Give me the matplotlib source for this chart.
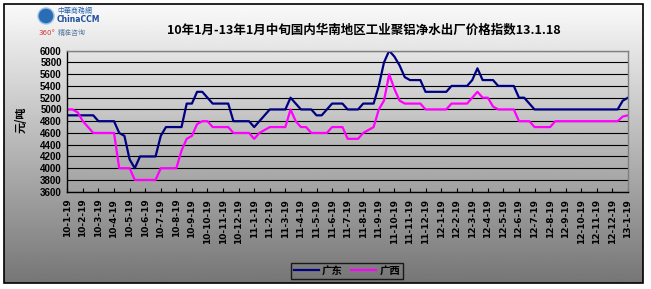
import numpy as np
import matplotlib
matplotlib.use("Agg")
import matplotlib.pyplot as plt
from matplotlib.patches import Rectangle, Circle

plt.rcParams['font.family'] = ['Noto Sans CJK SC', 'DejaVu Sans']

# ---------------- data ----------------
title = "10年1月-13年1月中旬国内华南地区工业聚铝净水出厂价格指数13.1.18"
y_label = "元/吨"
series_names = ["广东", "广西"]
month_labels = [f"{y}-{m}-19" for y in (10, 11, 12) for m in range(1, 13)] + ["13-1-19"]
y_ticks = list(range(3600, 6001, 200))

guangdong = [4900, 4900, 4900, 4900, 4900, 4900, 4800, 4800, 4800, 4800,
             4600, 4550, 4150, 4000, 4200, 4200, 4200, 4200, 4550, 4700,
             4700, 4700, 4700, 5100, 5100, 5300, 5300, 5200, 5100, 5100,
             5100, 5100, 4800, 4800, 4800, 4800, 4700, 4800, 4900, 5000,
             5000, 5000, 5000, 5200, 5100, 5000, 5000, 5000, 4900, 4900,
             5000, 5100, 5100, 5100, 5000, 5000, 5000, 5100, 5100, 5100,
             5400, 5800, 6000, 5900, 5750, 5550, 5500, 5500, 5500, 5300,
             5300, 5300, 5300, 5300, 5400, 5400, 5400, 5400, 5500, 5700,
             5500, 5500, 5500, 5400, 5400, 5400, 5400, 5200, 5200, 5100,
             5000, 5000, 5000, 5000, 5000, 5000, 5000, 5000, 5000, 5000,
             5000, 5000, 5000, 5000, 5000, 5000, 5000, 5150, 5200]

guangxi = [5000, 5000, 4950, 4800, 4700, 4600, 4600, 4600, 4600, 4600,
           4000, 4000, 4000, 3800, 3800, 3800, 3800, 3800, 4000, 4000,
           4000, 4000, 4300, 4500, 4550, 4750, 4800, 4800, 4700, 4700,
           4700, 4700, 4600, 4600, 4600, 4600, 4500, 4600, 4650, 4700,
           4700, 4700, 4700, 5000, 4800, 4700, 4700, 4600, 4600, 4600,
           4600, 4700, 4700, 4700, 4500, 4500, 4500, 4600, 4650, 4700,
           5000, 5150, 5600, 5350, 5150, 5100, 5100, 5100, 5100, 5000,
           5000, 5000, 5000, 5000, 5100, 5100, 5100, 5100, 5200, 5300,
           5200, 5200, 5050, 5000, 5000, 5000, 5000, 4800, 4800, 4800,
           4700, 4700, 4700, 4700, 4800, 4800, 4800, 4800, 4800, 4800,
           4800, 4800, 4800, 4800, 4800, 4800, 4800, 4880, 4900]

# ---------------- figure ----------------
W, H = 651, 289
fig = plt.figure(figsize=(W / 100, H / 100), dpi=100)
fig.patch.set_facecolor("white")

# background gradient + frame
bg = fig.add_axes([0, 0, 1, 1], zorder=0)
bg.set_xlim(0, W)
bg.set_ylim(H, 0)
bg.axis("off")
grad = np.linspace(250, 118, 256)[:, None] * np.ones((1, 4))
bg.imshow(grad, extent=(4, 643, 283, 4), cmap="gray", vmin=0, vmax=255,
          aspect="auto", interpolation="bilinear")
bg.add_patch(Rectangle((4, 4), 639, 279, fill=False, edgecolor="black", lw=1.2))

# logo (text)
bg.add_patch(Circle((46, 16), 8, facecolor="#2a6db5", edgecolor="#9cc3e6", lw=1))
bg.text(57, 11, "中華商務網", fontsize=5, color="#1f5fae", va="center", ha="left")
bg.text(57, 19, "ChinaCCM", fontsize=5.5, color="#1f4f9e", va="center", ha="left",
        fontweight="bold", family=["DejaVu Sans"])
bg.text(38, 33, "360°", fontsize=5, color="#d03030", va="center", ha="left",
        family=["DejaVu Sans"])
bg.text(58, 33, "精准咨询", fontsize=5, color="#5a7aa0", va="center", ha="left")

# title
bg.text(364, 30, title, fontsize=9, fontweight="bold", ha="center", va="center",
        color="black")

# y label
bg.text(21, 120, y_label, fontsize=8, fontweight="bold", rotation=90,
        ha="center", va="center")

# main axes
left, right, top, bottom = 67.3, 628.0, 50.7, 191.7
ax = fig.add_axes([left / W, 1 - bottom / H, (right - left) / W, (bottom - top) / H],
                  zorder=2)
ax.set_facecolor("none")

x = np.arange(len(guangdong))
l1, = ax.plot(x, guangdong, color="#000080", lw=1.6, label=series_names[0])
l2, = ax.plot(x, guangxi, color="#FF00FF", lw=1.6, label=series_names[1])

ax.set_xlim(0, len(guangdong) - 1)
ax.set_ylim(y_ticks[0], y_ticks[-1])
ax.set_yticks(y_ticks)
ax.set_yticklabels([str(v) for v in y_ticks], fontsize=7, fontweight="bold",
                   family=["Liberation Sans"])
ax.tick_params(axis="y", length=0, pad=4)

xt = np.arange(0, len(guangdong), 3)
ax.set_xticks(xt)
ax.set_xticklabels(month_labels, rotation=90, fontsize=6.5, fontweight="bold",
                   family=["DejaVu Sans"])
ax.tick_params(axis="x", direction="in", length=3, width=0.8, pad=5)

ax.grid(axis="y", color="black", lw=0.8)
ax.set_axisbelow(True)
for s in ("top", "right"):
    ax.spines[s].set_color("#808080")
    ax.spines[s].set_linewidth(1)
for s in ("left", "bottom"):
    ax.spines[s].set_color("black")
    ax.spines[s].set_linewidth(1)

leg = fig.legend(handles=[l1, l2], loc="center", ncol=2,
                 bbox_to_anchor=(347 / W, 1 - 271 / H),
                 prop={"weight": "bold", "size": 7.5},
                 frameon=True, fancybox=False, edgecolor="black",
                 handlelength=2.4, handletextpad=0.3, columnspacing=0.8,
                 borderpad=0.3)
leg.get_frame().set_facecolor("none")
leg.get_frame().set_linewidth(1)

fig.savefig("out.png", dpi=100)
